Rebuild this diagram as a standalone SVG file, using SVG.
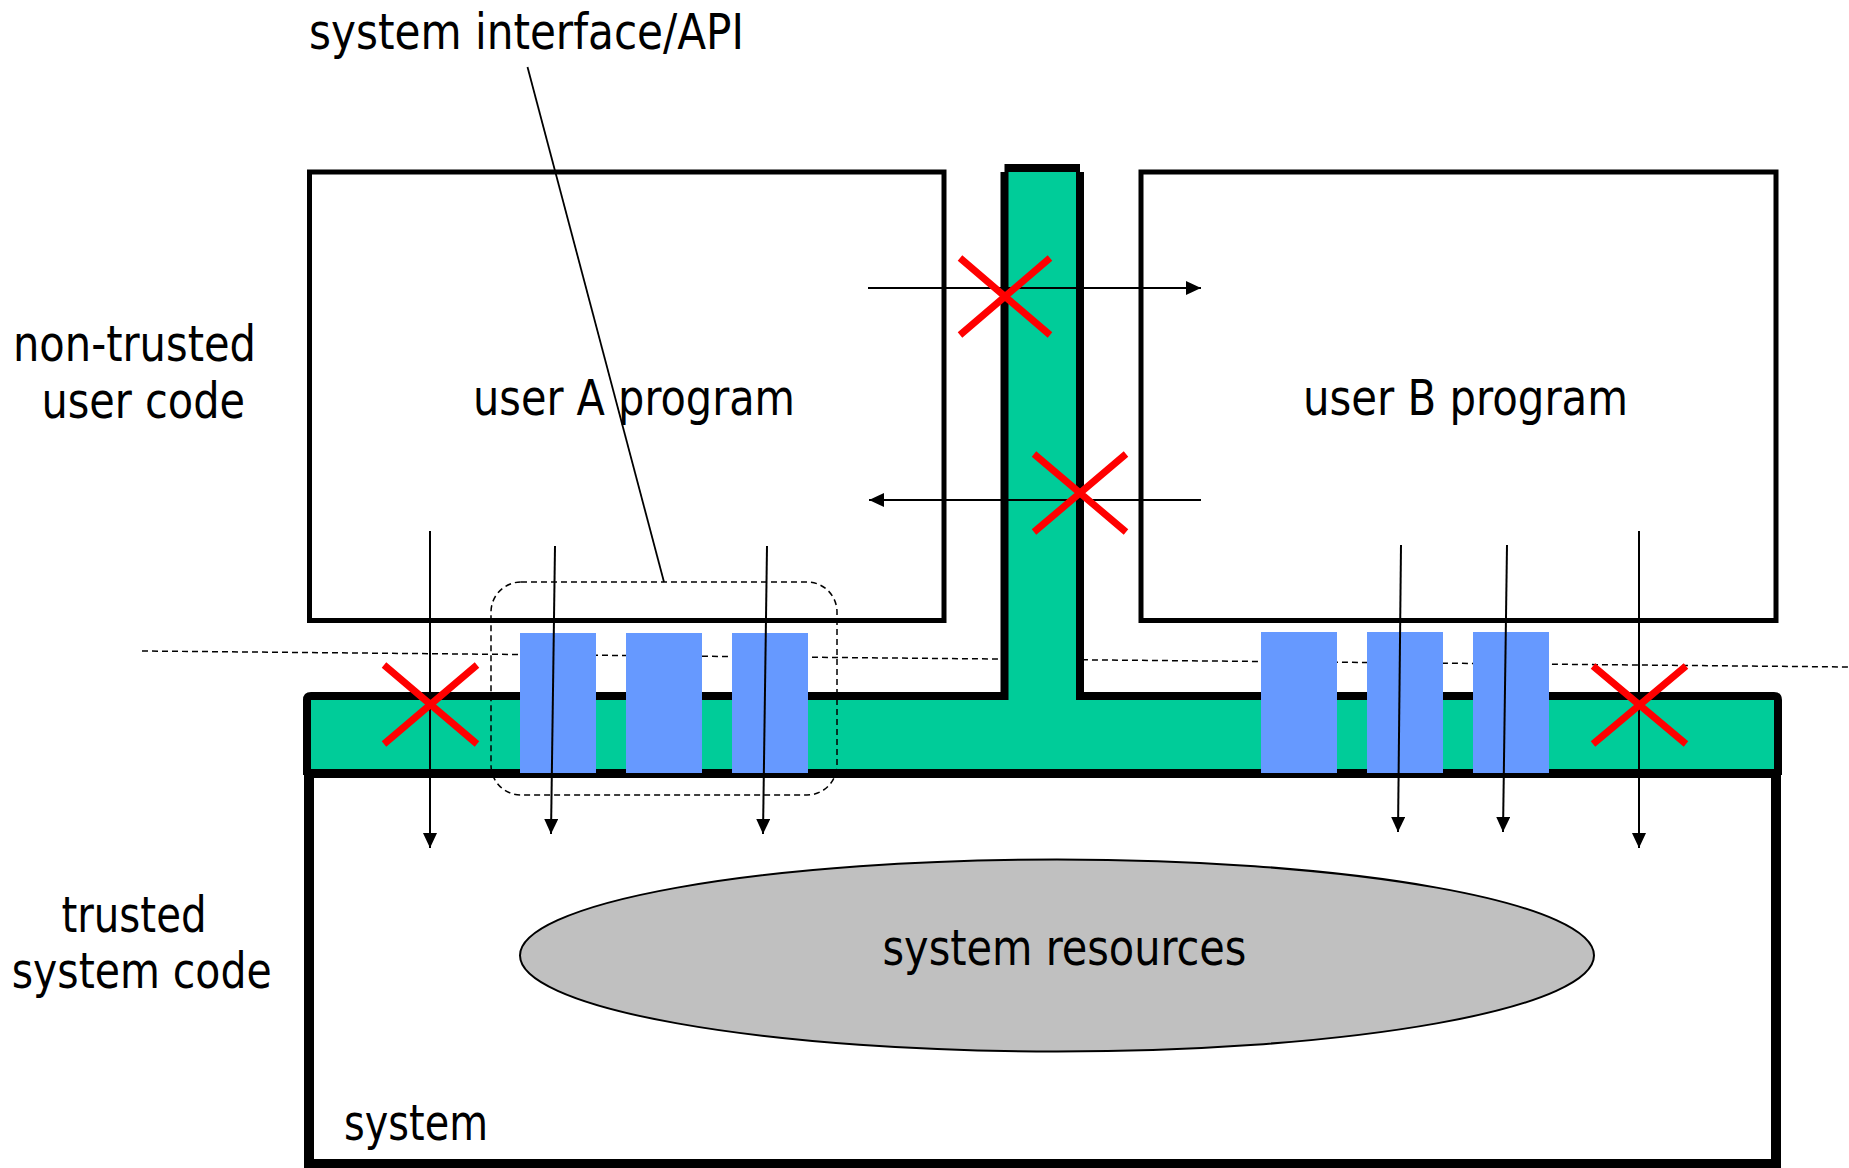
<svg xmlns="http://www.w3.org/2000/svg" width="1849" height="1168" viewBox="0 0 1849 1168">
<style>
.lbl{font-family:"DejaVu Sans Condensed","DejaVu Sans",sans-serif;font-size:49px;fill:#000}
.box{fill:#fff;stroke:#000;stroke-width:5}
.blue{fill:#6699FF}
.dash{fill:none;stroke:#000;stroke-width:1.5;stroke-dasharray:6 4}
.arr{fill:none;stroke:#000;stroke-width:2;marker-end:url(#ah)}
.x{stroke:#FF0000;stroke-width:7;fill:none}
.out{fill:none;stroke:#000;stroke-width:8}
</style>
<defs>
<marker id="ah" markerUnits="userSpaceOnUse" markerWidth="15" markerHeight="14" refX="15" refY="7" orient="auto">
<path d="M0,0 L15,7 L0,14 z" fill="#000"/>
</marker>
</defs>
<rect width="1849" height="1168" fill="#fff"/>

<g id="boundary">
<line class="dash" x1="142" y1="651" x2="1849" y2="667"/>
</g>

<g id="system">
<rect x="309" y="773" width="1467" height="391" fill="#fff" stroke="#000" stroke-width="10"/>
<text class="lbl" x="344" y="1140" textLength="144" lengthAdjust="spacingAndGlyphs">system</text>
</g>

<g id="interface">
<path d="M307,773 V696 H1004.5 V172 H1080 V696 H1778 V773 Z" fill="#00CC99"/>
<path class="out" d="M307,775 V700 Q307,696 311,696 H1004.5 V172 M1080,172 V696 H1774 Q1778,696 1778,700 V775"/>
<line x1="1004.5" y1="168" x2="1080" y2="168" stroke="#000" stroke-width="8"/>
<line x1="307" y1="773" x2="1778" y2="773" stroke="#000" stroke-width="8"/>
</g>

<g id="resources">
<ellipse cx="1057" cy="955.5" rx="537" ry="96" fill="#C0C0C0" stroke="#000" stroke-width="2"/>
<text class="lbl" x="882.5" y="964.5" textLength="364" lengthAdjust="spacingAndGlyphs">system resources</text>
</g>

<g id="userA">
<rect class="box" x="309.5" y="172" width="634.5" height="448.5"/>
<text class="lbl" x="473" y="414.5" textLength="322" lengthAdjust="spacingAndGlyphs">user A program</text>
</g>

<g id="userB">
<rect class="box" x="1141" y="172" width="635" height="448.5"/>
<text class="lbl" x="1303" y="414.5" textLength="325" lengthAdjust="spacingAndGlyphs">user B program</text>
</g>

<g id="api-calls">
<rect class="blue" x="520" y="633" width="76" height="140"/>
<rect class="blue" x="626" y="633" width="76" height="140"/>
<rect class="blue" x="732" y="633" width="76" height="140"/>
<rect class="blue" x="1261" y="632" width="76" height="141"/>
<rect class="blue" x="1367" y="632" width="76" height="141"/>
<rect class="blue" x="1473" y="632" width="76" height="141"/>
</g>

<g id="api-group">
<rect class="dash" x="491" y="582" width="346" height="213" rx="30" ry="30"/>
</g>

<g id="labels">
<text class="lbl" x="309" y="49" textLength="435" lengthAdjust="spacingAndGlyphs">system interface/API</text>
<text class="lbl" x="13" y="361" textLength="243" lengthAdjust="spacingAndGlyphs">non-trusted</text>
<text class="lbl" x="41.5" y="417.5" textLength="203.5" lengthAdjust="spacingAndGlyphs">user code</text>
<text class="lbl" x="61.5" y="932" textLength="145" lengthAdjust="spacingAndGlyphs">trusted</text>
<text class="lbl" x="11.7" y="988" textLength="260" lengthAdjust="spacingAndGlyphs">system code</text>
</g>

<g id="connectors">
<line x1="527.5" y1="67" x2="664" y2="582" stroke="#000" stroke-width="1.8"/>
<line class="arr" x1="868" y1="288" x2="1201" y2="288"/>
<line class="arr" x1="1201" y1="500" x2="869" y2="500"/>
<line class="arr" x1="430" y1="531" x2="430" y2="848"/>
<line class="arr" x1="555" y1="546" x2="551" y2="834"/>
<line class="arr" x1="767" y1="546" x2="763" y2="834"/>
<line class="arr" x1="1401" y1="545" x2="1398" y2="832"/>
<line class="arr" x1="1507" y1="545" x2="1503" y2="832"/>
<line class="arr" x1="1639" y1="531" x2="1639" y2="848"/>
</g>

<g id="blocked">
<path class="x" d="M960,258 L1050,335 M1050,258 L960,335"/>
<path class="x" d="M1034,454 L1126,532 M1126,454 L1034,532"/>
<path class="x" d="M384,665 L477,744 M477,665 L384,744"/>
<path class="x" d="M1593,666 L1686,744 M1686,666 L1593,744"/>
</g>
</svg>
